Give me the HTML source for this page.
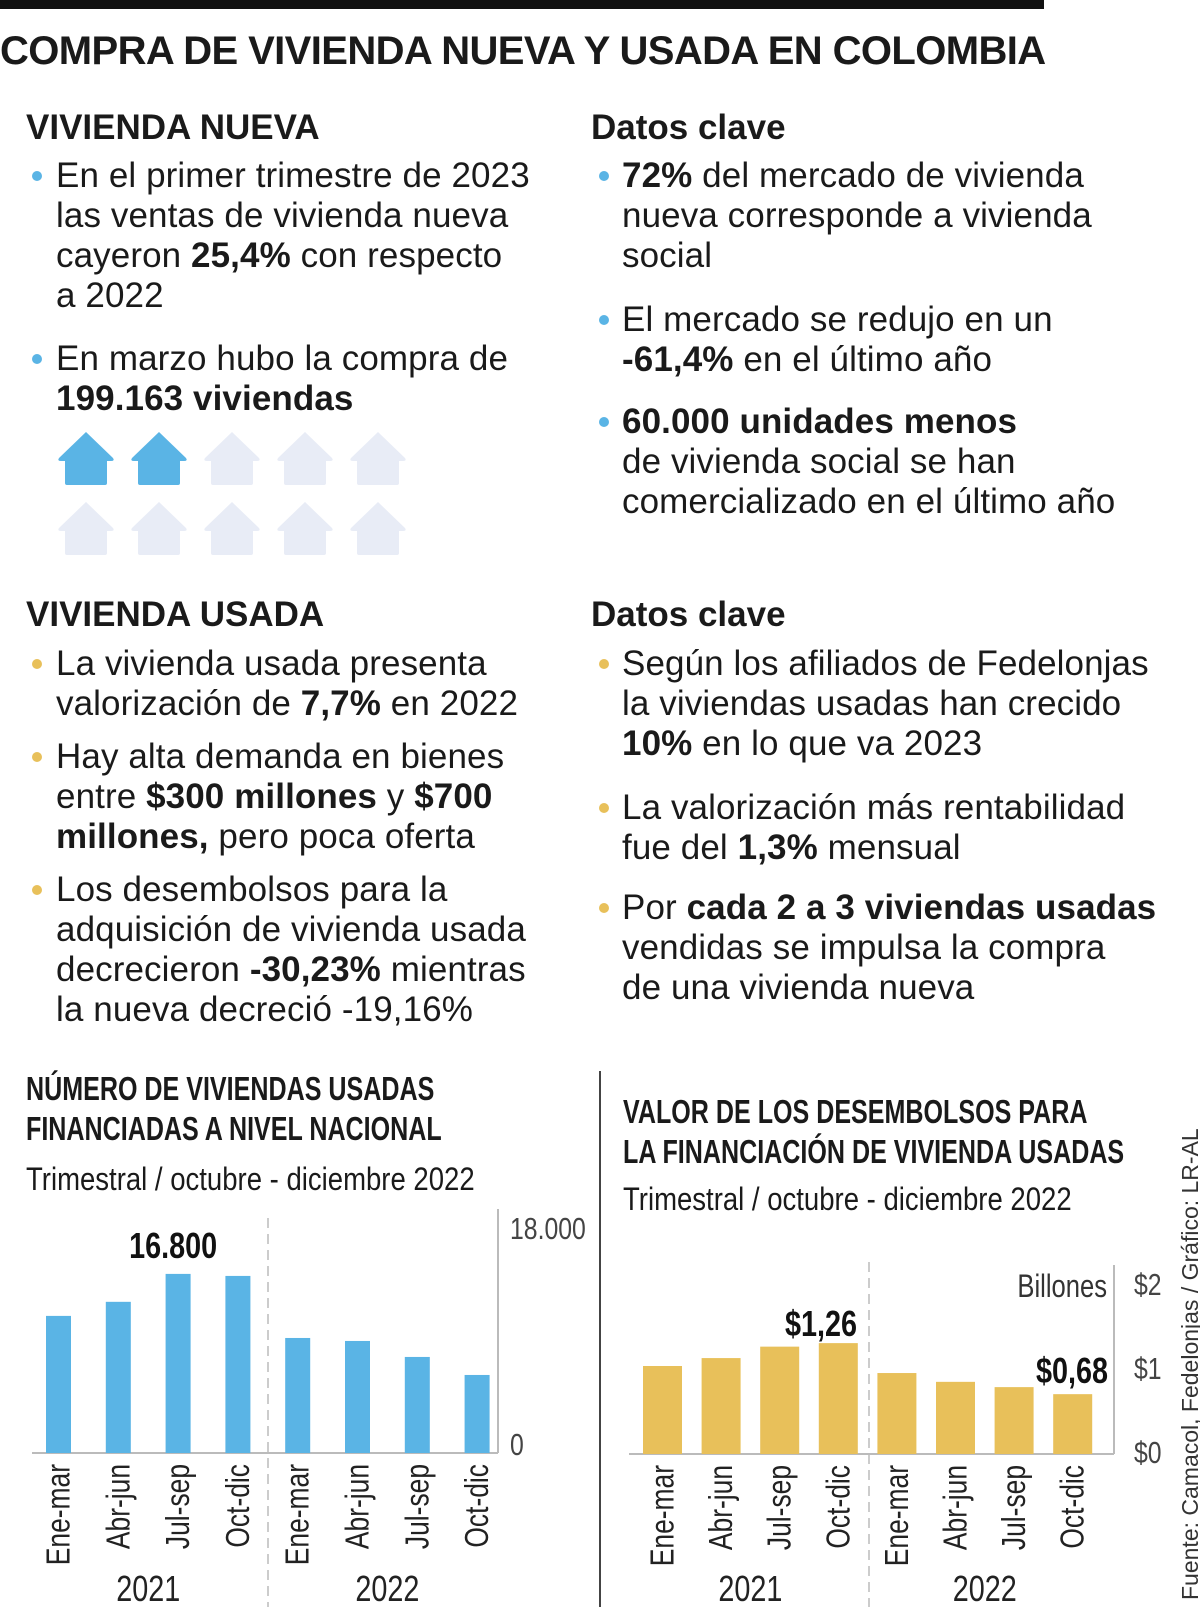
<!DOCTYPE html>
<html><head><meta charset="utf-8">
<style>
*{margin:0;padding:0;box-sizing:border-box}
body{width:1200px;height:1607px;background:#fff;position:relative;overflow:hidden;font-family:"Liberation Sans",sans-serif;color:#1a1a1a}
.a{position:absolute;white-space:nowrap}
.h{font-weight:bold;font-size:35px;line-height:40px}
.t{font-size:35px;line-height:40px;letter-spacing:0.1px}
.t b{font-weight:bold}
.dot{position:absolute;width:10px;height:10px;border-radius:50%}
.bl{background:#5ab4e5}.yl{background:#e8c05a}
.ct{font-weight:bold;font-size:33px;line-height:40px;transform:scaleX(0.76);transform-origin:left}
.cs{font-size:32px;line-height:40px;transform:scaleX(0.86);transform-origin:left}
</style></head><body>
<div class="a" style="left:0;top:0;width:1044px;height:9px;background:#111"></div>
<div class="a" style="left:0;top:29px;font-size:40px;line-height:44px;font-weight:bold;letter-spacing:-0.6px">COMPRA DE VIVIENDA NUEVA Y USADA EN COLOMBIA</div>

<div class="a h" style="left:26px;top:108px">VIVIENDA NUEVA</div>
<div class="a h" style="left:591px;top:108px">Datos clave</div>

<div class="dot bl" style="left:32px;top:171px"></div>
<div class="a t" style="left:56px;top:156px">En el primer trimestre de 2023<br>las ventas de vivienda nueva<br>cayeron <b>25,4%</b> con respecto<br>a 2022</div>
<div class="dot bl" style="left:32px;top:354px"></div>
<div class="a t" style="left:56px;top:339px">En marzo hubo la compra de<br><b>199.163 viviendas</b></div>

<svg class="a" style="left:0;top:410px" width="420" height="160">
<g id="hs"></g>
</svg>

<div class="dot bl" style="left:599px;top:171px"></div>
<div class="a t" style="left:622px;top:156px"><b>72%</b> del mercado de vivienda<br>nueva corresponde a vivienda<br>social</div>
<div class="dot bl" style="left:599px;top:315px"></div>
<div class="a t" style="left:622px;top:300px">El mercado se redujo en un<br><b>-61,4%</b> en el último año</div>
<div class="dot bl" style="left:599px;top:417px"></div>
<div class="a t" style="left:622px;top:402px"><b>60.000 unidades menos</b><br>de vivienda social se han<br>comercializado en el último año</div>

<div class="a h" style="left:26px;top:595px">VIVIENDA USADA</div>
<div class="a h" style="left:591px;top:595px">Datos clave</div>

<div class="dot yl" style="left:32px;top:659px"></div>
<div class="a t" style="left:56px;top:644px">La vivienda usada presenta<br>valorización de <b>7,7%</b> en 2022</div>
<div class="dot yl" style="left:32px;top:752px"></div>
<div class="a t" style="left:56px;top:737px">Hay alta demanda en bienes<br>entre <b>$300 millones</b> y <b>$700<br>millones,</b> pero poca oferta</div>
<div class="dot yl" style="left:32px;top:885px"></div>
<div class="a t" style="left:56px;top:870px">Los desembolsos para la<br>adquisición de vivienda usada<br>decrecieron <b>-30,23%</b> mientras<br>la nueva decreció -19,16%</div>

<div class="dot yl" style="left:599px;top:659px"></div>
<div class="a t" style="left:622px;top:644px">Según los afiliados de Fedelonjas<br>la viviendas usadas han crecido<br><b>10%</b> en lo que va 2023</div>
<div class="dot yl" style="left:599px;top:803px"></div>
<div class="a t" style="left:622px;top:788px">La valorización más rentabilidad<br>fue del <b>1,3%</b> mensual</div>
<div class="dot yl" style="left:599px;top:903px"></div>
<div class="a t" style="left:622px;top:888px">Por <b>cada 2 a 3 viviendas usadas</b><br>vendidas se impulsa la compra<br>de una vivienda nueva</div>

<div class="a ct" style="left:26px;top:1069px">NÚMERO DE VIVIENDAS USADAS<br>FINANCIADAS A NIVEL NACIONAL</div>
<div class="a cs" style="left:26px;top:1159px">Trimestral / octubre - diciembre 2022</div>
<div class="a" style="left:599px;top:1071px;width:2px;height:536px;background:#444"></div>
<div class="a ct" style="left:623px;top:1092px">VALOR DE LOS DESEMBOLSOS PARA<br>LA FINANCIACIÓN DE VIVIENDA USADAS</div>
<div class="a cs" style="left:623px;top:1179px">Trimestral / octubre - diciembre 2022</div>

<svg class="a" style="left:0;top:0" width="1200" height="1607" id="cs"></svg>

<script>
const categories=["Ene-mar","Abr-jun","Jul-sep","Oct-dic","Ene-mar","Abr-jun","Jul-sep","Oct-dic"];
const years=["2021","2022"];
const unitsValues=[12860,14180,16800,16610,10790,10510,9010,7320];
const unitsTicks=["0","18.000"];
const unitsTickValues=[0,18000];
const moneyValues=[1.00,1.09,1.22,1.26,0.92,0.82,0.76,0.68];
const moneyTicks=["$0","$1","$2"];
const moneyTickValues=[0,1,2];
const housesFilled=2, housesTotal=10;

const NS="http://www.w3.org/2000/svg";
function mk(tag,attrs,parent){const e=document.createElementNS(NS,tag);for(const k in attrs)e.setAttribute(k,attrs[k]);parent.appendChild(e);return e;}
const ff='"Liberation Sans",sans-serif';

const hs=document.getElementById('hs');
for(let i=0;i<housesTotal;i++){
  const c=i%5,r=Math.floor(i/5);
  const x=58+c*73,y=22+r*70;
  const p=mk('path',{d:`M${x+28},${y} L${x+55},${y+26} Q${x+57},${y+29} ${x+53},${y+29} L${x+49},${y+29} L${x+49},${y+51} Q${x+49},${y+53} ${x+47},${y+53} L${x+9},${y+53} Q${x+7},${y+53} ${x+7},${y+51} L${x+7},${y+29} L${x+3},${y+29} Q${x-1},${y+29} ${x+1},${y+26} Z`,fill:i<housesFilled?'#5ab4e5':'#e8ecf6'},hs);
  
  
}

const svg=document.getElementById('cs');
function txt(str,tr,attrs,name){
  const t=mk('text',Object.assign({transform:tr,'font-family':ff,fill:'#222'},attrs),svg);
  t.textContent=str;
  
  
  return t;
}
function chart(o){
  const y=v=>o.base-v/o.max*o.h;
  const x=i=>o.x0+i*o.step;
  mk('line',{x1:o.axL,y1:o.base,x2:o.axR,y2:o.base,stroke:'#bbb','stroke-width':2},svg);
  mk('line',{x1:o.axR,y1:o.base,x2:o.axR,y2:o.axTop,stroke:'#bbb','stroke-width':2},svg);
  mk('line',{x1:o.div,y1:o.divTop,x2:o.div,y2:1607,stroke:'#bbb','stroke-width':1.5,'stroke-dasharray':'10,6'},svg);
  o.vals.forEach((v,i)=>{
    const r=mk('rect',{x:x(i)-o.bw/2,y:y(v),width:o.bw,height:o.base-y(v),fill:o.color},svg);
    
    
    txt(categories[i],`translate(${x(i)+11},${o.base+11}) rotate(-90) scale(0.8,1)`,{'text-anchor':'end','font-size':33},'x-label');
  });
  years.forEach((yr,k)=>{
    txt(yr,`translate(${(x(k*4)+x(k*4+3))/2},1601) scale(0.8,1)`,{'text-anchor':'middle','font-size':36},'year-label');
  });
  o.ticks.forEach((lb,k)=>{
    const ty=o.tickY(o.tickVals[k],k);
    txt(lb,`translate(${o.axR+o.tickDx},${ty+11}) scale(0.8,1)`,{'font-size':31,fill:'#444'},'y-tick-label');
  });
  return {x,y};
}
const c1=chart({vals:unitsValues,max:22700,h:242,base:1453,x0:58.5,step:59.8,bw:25,axL:32,axR:498,axTop:1209,div:268,divTop:1218,color:'#5ab4e5',ticks:unitsTicks,tickVals:unitsTickValues,tickDx:12,tickY:(v,k)=>k===0?1444:1228});
txt('16.800',`translate(${c1.x(2)-5},1258) scale(0.8,1)`,{'text-anchor':'middle','font-weight':'bold','font-size':36,fill:'#111'},'peak-value-label');

const c2=chart({vals:moneyValues,max:2,h:176,base:1454,x0:662.5,step:58.6,bw:39,axL:629,axR:1114,axTop:1265,div:869,divTop:1262,color:'#e8c05a',ticks:moneyTicks,tickVals:moneyTickValues,tickDx:20,tickY:(v,k)=>1452-k*84});
txt('$1,26','translate(857,1336) scale(0.8,1)',{'text-anchor':'end','font-weight':'bold','font-size':36,fill:'#111'},'value-label');
txt('$0,68','translate(1108,1383) scale(0.8,1)',{'text-anchor':'end','font-weight':'bold','font-size':36,fill:'#111'},'value-label');
txt('Billones','translate(1107,1297) scale(0.8,1)',{'text-anchor':'end','font-size':32,fill:'#333'},'unit-label');
txt('Fuente: Camacol, Fedelonjas / Gráfico: LR-AL','translate(1198,1600) rotate(-90)',{'font-size':23,fill:'#333'},'source-note');
</script>
</body></html>
